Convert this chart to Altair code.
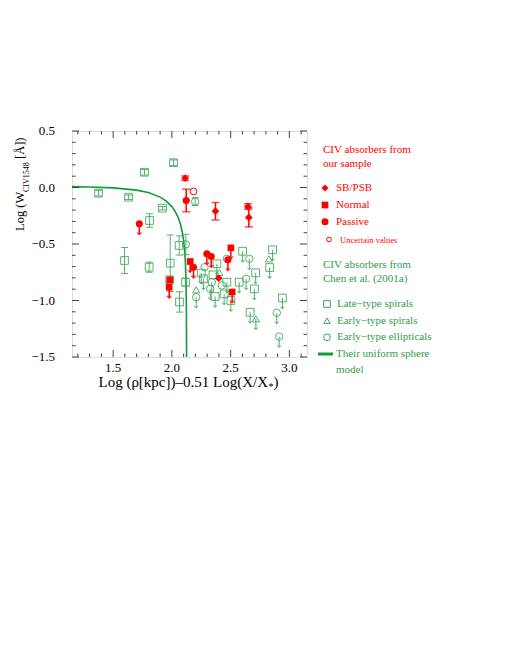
import altair as alt
import pandas as pd

# ---------------- data ----------------
# uniform sphere model curve (Chen et al. 2001a)
curve_x = [1.15, 1.30, 1.50, 1.70, 1.80, 1.90, 1.95, 2.00, 2.03, 2.05, 2.07, 2.08,
           2.09, 2.10, 2.11, 2.115, 2.12, 2.123, 2.1245, 2.125]
curve_y = [0.008, 0.005, -0.003, -0.023, -0.045, -0.085, -0.119, -0.169, -0.215, -0.257,
           -0.315, -0.354, -0.404, -0.47, -0.58, -0.663, -0.81, -1.01, -1.32, -1.5]

# Chen et al. (2001a) absorbers: late = late-type spiral, esp = early-type spiral, ell = elliptical
green_x = [1.376, 1.631, 1.767, 2.014, 1.920, 1.810, 1.597, 1.807, 2.062, 2.119,
           1.986, 1.982, 2.116, 2.065, 2.198, 2.207, 2.207, 2.250, 2.278, 2.349,
           2.383, 2.340, 2.269, 2.326, 2.368, 2.468, 2.425, 2.445, 2.502, 2.573,
           2.632, 2.602, 2.659, 2.713, 2.702, 2.857, 2.826, 2.832, 2.666, 2.715,
           2.941, 2.893, 2.913, 2.468, 2.404]
green_y = [-0.050, -0.086, 0.135, 0.219, -0.183, -0.292, -0.646, -0.705, -0.513, -0.504,
           -0.670, -0.817, -0.838, -1.013, -0.124, -0.905, -0.971, -0.758, -0.705, -0.773,
           -0.675, -0.838, -0.808, -0.897, -0.965, -0.838, -0.867, -0.941, -1.000, -0.838,
           -0.808, -0.564, -0.631, -0.755, -0.897, -0.551, -0.631, -0.708, -1.104, -1.162,
           -0.978, -1.109, -1.319, -0.631, -0.752]
green_type = ["late", "late", "late", "late", "late", "late", "late", "late", "late", "ell",
              "late", "late", "late", "late", "ell", "esp", "ell", "late", "ell", "late",
              "late", "ell", "late", "ell", "late", "late", "ell", "late", "late", "late",
              "ell", "late", "ell", "late", "late", "late", "esp", "late", "late", "esp",
              "late", "ell", "ell", "ell", "esp"]
green_err = [0.025, 0.02, 0.025, 0.025, 0.015, 0.06, 0.115, 0.045, 0.085, 0.09,
             0.25, 0.0, 0.035, 0.09, 0.035, 0, 0, 0, 0, 0,
             0, 0, 0, 0, 0, 0, 0, 0, 0, 0,
             0, 0, 0, 0, 0, 0, 0, 0, 0, 0,
             0, 0, 0, 0, 0]
green_limit = [False, False, False, False, False, False, False, False, False, False,
               False, False, False, False, False, False, True, True, False, False,
               True, True, True, True, True, True, False, True, True, True,
               True, True, True, True, True, True, False, True, True, True,
               True, True, True, False, False]

# our sample
red_x = [2.113, 2.122, 2.184, 2.371, 2.647, 2.655, 1.723, 1.982, 1.977, 2.156,
         2.184, 2.298, 2.335, 2.502, 2.477, 2.398, 2.513]
red_y = [0.082, -0.115, -0.035, -0.210, -0.168, -0.265, -0.321, -0.817, -0.882, -0.655,
         -0.705, -0.587, -0.611, -0.534, -0.640, -0.803, -0.925]
red_type = ["SB/PSB", "Passive", "Uncertain", "SB/PSB", "SB/PSB", "SB/PSB", "Passive",
            "Normal", "Normal", "Normal", "Passive", "Passive", "Passive", "Normal",
            "Passive", "SB/PSB", "Normal"]
red_err = [0.02, 0.10, 0, 0.077, 0.025, 0.084, 0, 0, 0, 0, 0, 0, 0, 0, 0, 0, 0]
red_limit = [False, False, False, False, False, False, True, False, True, True,
             True, True, True, True, True, False, True]

x_major = [1.5, 2.0, 2.5, 3.0]
x_labels = ["1.5", "2.0", "2.5", "3.0"]
x_minor = [1.2, 1.3, 1.4, 1.6, 1.7, 1.8, 1.9, 2.1, 2.2, 2.3, 2.4, 2.6, 2.7, 2.8, 2.9, 3.1]
y_major = [-1.5, -1.0, -0.5, 0.0, 0.5]
y_labels = ["−1.5", "−1.0", "−0.5", "0.0", "0.5"]
y_minor = [-1.4, -1.3, -1.2, -1.1, -0.9, -0.8, -0.7, -0.6, -0.4, -0.3, -0.2, -0.1,
           0.1, 0.2, 0.3, 0.4]

# ---------------- styling ----------------
W, H = 235, 226
RED = "#ff0000"
GREEN = "#3aa655"
GREEN_TXT = "#2f9e48"
LINE_GREEN = "#139a3a"
FONT = "Liberation Serif"
ARROW = 0.095

xs = alt.Scale(domain=[1.15, 3.15], nice=False, zero=False)
ys = alt.Scale(domain=[-1.5, 0.5], nice=False, zero=False)

gdf = pd.DataFrame({"x": green_x, "y": green_y, "type": green_type,
                    "err": green_err, "lim": green_limit})
gdf["lo"] = gdf["y"] - gdf["err"]
gdf["hi"] = gdf["y"] + gdf["err"]
gdf["yend"] = gdf["y"] - ARROW
g_err = gdf[gdf["err"] > 0]
g_lim = gdf[gdf["lim"]]

rdf = pd.DataFrame({"x": red_x, "y": red_y, "type": red_type,
                    "err": red_err, "lim": red_limit})
rdf["lo"] = rdf["y"] - rdf["err"]
rdf["hi"] = rdf["y"] + rdf["err"]
rdf["yend"] = rdf["y"] - ARROW
r_err = rdf[rdf["err"] > 0]
r_lim = rdf[rdf["lim"]]


def X(f="x"):
    return alt.X(f"{f}:Q", scale=xs, axis=None)


def Y(f="y"):
    return alt.Y(f"{f}:Q", scale=ys, axis=None)


CHEVRON = "M -1 -0.9 L 0 0 L 1 -0.9"

layers = []

# model curve
cdf = pd.DataFrame({"x": curve_x, "y": curve_y})
layers.append(alt.Chart(cdf).mark_line(color=LINE_GREEN, strokeWidth=1.6, clip=True)
              .encode(x=X(), y=Y(), order="x:Q"))

# green error bars
layers.append(alt.Chart(g_err).mark_rule(color=GREEN, strokeWidth=1, opacity=0.85)
              .encode(x=X(), y=Y("lo"), y2="hi:Q"))
for f in ["lo", "hi"]:
    layers.append(alt.Chart(g_err).mark_tick(orient="horizontal", color=GREEN, size=7,
                                             thickness=1, opacity=0.85)
                  .encode(x=X(), y=Y(f)))
# green arrows
layers.append(alt.Chart(g_lim).mark_rule(color=GREEN, strokeWidth=1, opacity=0.9)
              .encode(x=X(), y=Y(), y2="yend:Q"))
layers.append(alt.Chart(g_lim).mark_point(shape=CHEVRON, size=16, color=GREEN,
                                          filled=False, strokeWidth=1, opacity=0.9)
              .encode(x=X(), y=Y("yend")))
# green symbols
for t, shp, sz in [("late", "square", 60), ("esp", "triangle-up", 50), ("ell", "circle", 55)]:
    layers.append(alt.Chart(gdf[gdf["type"] == t])
                  .mark_point(shape=shp, filled=False, color=GREEN, strokeWidth=1,
                              opacity=0.85, size=sz)
                  .encode(x=X(), y=Y()))

# red error bars
layers.append(alt.Chart(r_err).mark_rule(color=RED, strokeWidth=1.5)
              .encode(x=X(), y=Y("lo"), y2="hi:Q"))
for f in ["lo", "hi"]:
    layers.append(alt.Chart(r_err).mark_tick(orient="horizontal", color=RED, size=8,
                                             thickness=1.5)
                  .encode(x=X(), y=Y(f)))
# red arrows
layers.append(alt.Chart(r_lim).mark_rule(color=RED, strokeWidth=1.5)
              .encode(x=X(), y=Y(), y2="yend:Q"))
layers.append(alt.Chart(r_lim).mark_point(shape=CHEVRON, size=20, color=RED,
                                          filled=False, strokeWidth=1.5)
              .encode(x=X(), y=Y("yend")))
# red symbols
for t, shp, sz, fill in [("SB/PSB", "diamond", 60, True), ("Normal", "square", 45, True),
                         ("Passive", "circle", 50, True), ("Uncertain", "circle", 45, False)]:
    layers.append(alt.Chart(rdf[rdf["type"] == t])
                  .mark_point(shape=shp, filled=fill, color=RED, opacity=1, size=sz,
                              strokeWidth=1)
                  .encode(x=X(), y=Y()))

# ---------------- frame ticks (inward, IDL style) and tick labels ----------------
tick_col = "#444444"
xmaj = pd.DataFrame({"v": x_major, "t": x_labels})
xmin = pd.DataFrame({"v": x_minor})
ymaj = pd.DataFrame({"v": y_major, "t": y_labels})
ymin = pd.DataFrame({"v": y_minor})

for df, ln in [(xmaj, 7), (xmin, 3.5)]:
    layers.append(alt.Chart(df).mark_rule(color=tick_col, strokeWidth=1)
                  .encode(x=alt.X("v:Q", scale=xs, axis=None),
                          y=alt.value(H), y2=alt.value(H - ln)))
    layers.append(alt.Chart(df).mark_rule(color=tick_col, strokeWidth=1)
                  .encode(x=alt.X("v:Q", scale=xs, axis=None),
                          y=alt.value(0), y2=alt.value(ln)))
for df, ln in [(ymaj, 7), (ymin, 3.5)]:
    layers.append(alt.Chart(df).mark_rule(color=tick_col, strokeWidth=1)
                  .encode(y=alt.Y("v:Q", scale=ys, axis=None),
                          x=alt.value(0), x2=alt.value(ln)))
    layers.append(alt.Chart(df).mark_rule(color=tick_col, strokeWidth=1)
                  .encode(y=alt.Y("v:Q", scale=ys, axis=None),
                          x=alt.value(W), x2=alt.value(W - ln)))

layers.append(alt.Chart(xmaj).mark_text(font=FONT, fontSize=13, color="black",
                                        align="center", baseline="middle")
              .encode(x=alt.X("v:Q", scale=xs, axis=None), y=alt.value(H + 11), text="t:N"))
layers.append(alt.Chart(ymaj).mark_text(font=FONT, fontSize=13, color="black",
                                        align="right", baseline="middle")
              .encode(y=alt.Y("v:Q", scale=ys, axis=None), x=alt.value(-17), text="t:N"))

# ---------------- titles and legend (placed in pixels) ----------------
one = pd.DataFrame({"a": [0]})


def txt(s, x, y, color="black", size=11, angle=None, align="left"):
    kw = dict(align=align, baseline="middle", font=FONT, fontSize=size, color=color)
    if angle is not None:
        kw["angle"] = angle
    return alt.Chart(one).mark_text(**kw).encode(x=alt.value(x), y=alt.value(y),
                                                 text=alt.value(s))


def sym(shape, x, y, color, filled, size=45):
    return alt.Chart(one).mark_point(shape=shape, filled=filled, color=color, size=size,
                                     opacity=1, strokeWidth=1).encode(
        x=alt.value(x), y=alt.value(y))


# x title
layers.append(txt("Log (ρ[kpc])–0.51 Log(X/X", 196, H + 25, size=15, align="right"))
layers.append(txt("*", 196.5, H + 30, size=10))
layers.append(txt(")", 201.5, H + 25, size=15))
# y title (rotated)
layers.append(txt("Log (W", -52, 100, size=12.5, angle=270))
layers.append(txt("CIV1548", -45, 61, size=8, angle=270))
layers.append(txt("[Å])", -52, 28, size=12.5, angle=270))

LX = 251
layers.append(txt("CIV absorbers from", LX, 19, RED))
layers.append(txt("our sample", LX, 33, RED))
layers.append(sym("diamond", 253, 57, RED, True, 50))
layers.append(txt("SB/PSB", 264, 57, RED))
layers.append(sym("square", 253, 74, RED, True, 45))
layers.append(txt("Normal", 264, 74, RED))
layers.append(sym("circle", 253, 90.7, RED, True, 50))
layers.append(txt("Passive", 264, 90.7, RED))
layers.append(sym("circle", 257, 108.5, RED, False, 22))
layers.append(txt("Uncertain values", 268, 108.5, RED, size=8.5))

layers.append(txt("CIV absorbers from", LX, 134, GREEN_TXT))
layers.append(txt("Chen et al. (2001a)", LX, 148, GREEN_TXT))
layers.append(sym("square", 255, 173, GREEN, False, 45))
layers.append(txt("Late−type spirals", 265, 173, GREEN_TXT))
layers.append(sym("triangle-up", 255, 189.7, GREEN, False, 40))
layers.append(txt("Early−type spirals", 265, 189.7, GREEN_TXT))
layers.append(sym("circle", 255, 206.3, GREEN, False, 45))
layers.append(txt("Early−type ellipticals", 265, 206.3, GREEN_TXT))
layers.append(alt.Chart(one).mark_rule(color=LINE_GREEN, strokeWidth=3)
              .encode(x=alt.value(246), x2=alt.value(261), y=alt.value(223)))
layers.append(txt("Their uniform sphere", 264, 223, GREEN_TXT))
layers.append(txt("model", 264, 239, GREEN_TXT))

chart = alt.layer(*layers).properties(
    width=W, height=H,
    autosize=alt.AutoSizeParams(type="none"),
    padding={"left": 64, "top": 123, "right": 196, "bottom": 296},
).configure_view(stroke="#444444", strokeWidth=1).configure(background="white")

chart.save("out.html", embed_options={"renderer": "svg", "actions": False})
